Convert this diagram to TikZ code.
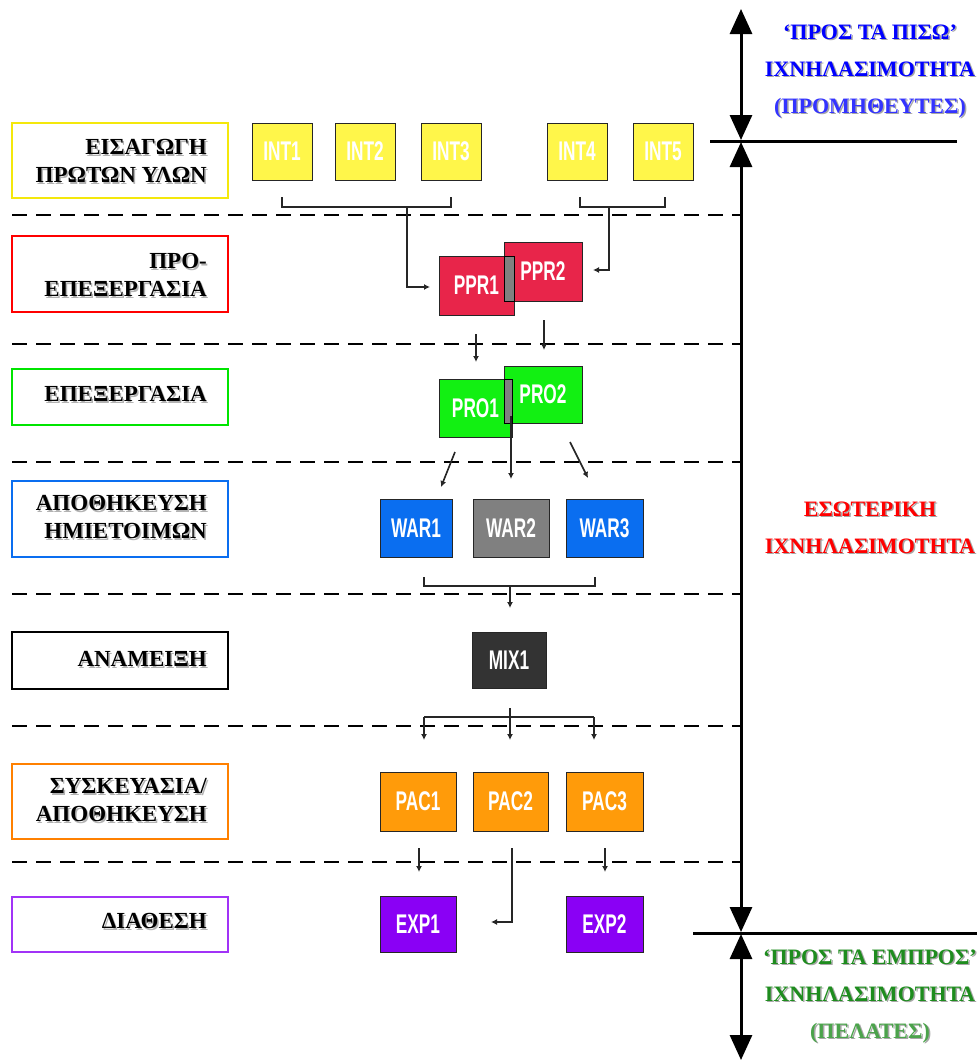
\documentclass[tikz,border=0pt]{standalone}
\usepackage{fontspec}
\usepackage{graphicx}
\setmainfont{Liberation Serif}
\newfontfamily\boxfont{Liberation Sans}
\usetikzlibrary{arrows.meta}
\definecolor{cyel}{HTML}{FFF64A}
\definecolor{cred}{HTML}{E8254A}
\definecolor{cgrn}{HTML}{12F012}
\definecolor{cblu}{HTML}{0A6EF0}
\definecolor{cgry}{HTML}{808080}
\definecolor{cdrk}{HTML}{333333}
\definecolor{corg}{HTML}{FF9B0A}
\definecolor{cpur}{HTML}{8A00F5}
\definecolor{tgrn}{HTML}{1E8C1E}
\newcommand\bx[1]{\scalebox{0.64}[1]{\boxfont\bfseries\fontsize{27}{27}\selectfont #1}}
\newcommand\shd[3]{{\makebox[0pt][l]{\textcolor{#2}{\raisebox{-1.5pt}{\hspace{1.5pt}#3}}}\textcolor{#1}{#3}}}
\tikzset{
  unit/.style={draw=black!85, line width=1pt, text=white, inner sep=0pt, minimum height=#1},
  lbox/.style={draw=#1, line width=1.5pt, minimum width=216pt, inner sep=0pt},
  lbl/.style={anchor=east, align=right, font=\bfseries\fontsize{23}{28}\selectfont, inner sep=0pt},
  rlbl/.style={align=center, font=\bfseries\fontsize{22}{37}\selectfont, inner sep=0pt},
  sep/.style={dash pattern=on 15pt off 9pt, line width=1.5pt},
  conn/.style={line width=1.6pt, black!85},
  tip/.style={-{Latex[length=6pt,width=6pt]}},
  axis/.style={line width=3pt, {Triangle[length=25pt,width=22pt]}-{Triangle[length=25pt,width=22pt]}},
  hline/.style={line width=3pt}
}
\begin{document}
\begin{tikzpicture}[x=1pt,y=-1pt]
\useasboundingbox (0,0) rectangle (977,1060);

% separator dashed lines
\foreach \yy in {215,344,462,594,726,862}
  \draw[sep] (12,\yy) -- (741,\yy);

% left stage boxes
\node[lbox=yellow!95!black, minimum height=75pt] (L1) at (120,160.5) {};
\node[lbox=red, minimum height=76pt] (L2) at (120,274) {};
\node[lbox=green!90!black, minimum height=56pt] (L3) at (120,397) {};
\node[lbox=cblu, minimum height=76pt] (L4) at (120,519) {};
\node[lbox=black, minimum height=57pt] (L5) at (120,660.5) {};
\node[lbox=orange, minimum height=75pt] (L6) at (120,801.5) {};
\node[lbox=cpur!80, minimum height=55pt] (L7) at (120,924.5) {};

\node[lbl] (T1) at (207,162) {\shd{black}{gray!60}{ΕΙΣΑΓΩΓΗ}\\\shd{black}{gray!60}{ΠΡΩΤΩΝ ΥΛΩΝ}};
\node[lbl] (T2) at (207,276) {\shd{black}{gray!60}{ΠΡΟ-}\\\shd{black}{gray!60}{ΕΠΕΞΕΡΓΑΣΙΑ}};
\node[lbl] (T3) at (207,395) {\shd{black}{gray!60}{ΕΠΕΞΕΡΓΑΣΙΑ}};
\node[lbl] (T4) at (207,518) {\shd{black}{gray!60}{ΑΠΟΘΗΚΕΥΣΗ}\\\shd{black}{gray!60}{ΗΜΙΕΤΟΙΜΩΝ}};
\node[lbl] (T5) at (207,660) {\shd{black}{gray!60}{ΑΝΑΜΕΙΞΗ}};
\node[lbl] (T6) at (207,801) {\shd{black}{gray!60}{ΣΥΣΚΕΥΑΣΙΑ/}\\\shd{black}{gray!60}{ΑΠΟΘΗΚΕΥΣΗ}};
\node[lbl] (T7) at (207,922) {\shd{black}{gray!60}{ΔΙΑΘΕΣΗ}};

% raw material units
\node[unit=57pt, fill=cyel, minimum width=60pt] (INT1) at (282,151.5) {\bx{INT1}};
\node[unit=57pt, fill=cyel, minimum width=60pt] (INT2) at (365,151.5) {\bx{INT2}};
\node[unit=57pt, fill=cyel, minimum width=60pt] (INT3) at (451,151.5) {\bx{INT3}};
\node[unit=57pt, fill=cyel, minimum width=60pt] (INT4) at (577,151.5) {\bx{INT4}};
\node[unit=57pt, fill=cyel, minimum width=60pt] (INT5) at (663,151.5) {\bx{INT5}};

% pre-processing
\node[unit=59pt, fill=cred, minimum width=75pt] (PPR1) at (476.5,285.5) {\bx{PPR1}};
\node[unit=59pt, fill=cred, minimum width=78pt] (PPR2) at (543,271.5) {\bx{PPR2}};
\draw[line width=1pt, fill=cgry] (504,256) rectangle (514,301);

% processing
\node[unit=58pt, fill=cgrn, minimum width=73pt] (PRO1) at (475.5,408) {\bx{PRO1}};
\node[unit=57pt, fill=cgrn, minimum width=78pt] (PRO2) at (543,394.5) {\bx{PRO2}};
\draw[line width=1pt, fill=cgry] (504,379) rectangle (512,423);

% warehouse
\node[unit=58pt, fill=cblu, minimum width=72pt] (WAR1) at (416,528) {\bx{WAR1}};
\node[unit=58pt, fill=cgry, minimum width=76pt] (WAR2) at (511,528) {\bx{WAR2}};
\node[unit=58pt, fill=cblu, minimum width=77pt] (WAR3) at (604.5,528) {\bx{WAR3}};

% mixing
\node[unit=56pt, fill=cdrk, minimum width=74pt] (MIX1) at (509,660) {\bx{MIX1}};

% packaging
\node[unit=59pt, fill=corg, minimum width=76pt] (PAC1) at (418,801.5) {\bx{PAC1}};
\node[unit=59pt, fill=corg, minimum width=75pt] (PAC2) at (510.5,801.5) {\bx{PAC2}};
\node[unit=59pt, fill=corg, minimum width=77pt] (PAC3) at (604.5,801.5) {\bx{PAC3}};

% dispatch
\node[unit=56pt, fill=cpur, minimum width=76pt] (EXP1) at (418,924) {\bx{EXP1}};
\node[unit=56pt, fill=cpur, minimum width=77pt] (EXP2) at (604.5,924) {\bx{EXP2}};

% connector coordinates
\coordinate (a1) at (282,197); \coordinate (a2) at (282,207);
\coordinate (a3) at (451,207); \coordinate (a4) at (451,197);
\coordinate (a5) at (407,207); \coordinate (a6) at (407,287); \coordinate (a7) at (430,287);
\coordinate (b1) at (580,197); \coordinate (b2) at (580,207);
\coordinate (b3) at (665,207); \coordinate (b4) at (665,197);
\coordinate (b5) at (609,207); \coordinate (b6) at (609,270); \coordinate (b7) at (593,270);
\coordinate (c1) at (476,334); \coordinate (c2) at (476,362);
\coordinate (c3) at (544,320); \coordinate (c4) at (544,350);
\coordinate (d1) at (455,452); \coordinate (d2) at (441,487);
\coordinate (d3) at (511,416); \coordinate (d4) at (511,479);
\coordinate (d5) at (570,442); \coordinate (d6) at (588,478);
\coordinate (e1) at (424,577); \coordinate (e2) at (424,586);
\coordinate (e3) at (595,586); \coordinate (e4) at (595,577);
\coordinate (e5) at (510,586); \coordinate (e6) at (510,608);
\coordinate (f1) at (510,708); \coordinate (f2) at (510,740);
\coordinate (f3) at (424,740); \coordinate (f4) at (424,717);
\coordinate (f5) at (594,717); \coordinate (f6) at (594,740);
\coordinate (g1) at (419,848); \coordinate (g2) at (419,872);
\coordinate (g3) at (605,848); \coordinate (g4) at (605,872);
\coordinate (g5) at (512,848); \coordinate (g6) at (512,922); \coordinate (g7) at (491,922);

\draw[conn] (a1) -- (a2) -- (a3) -- (a4);
\draw[conn, tip] (a5) -- (a6) -- (a7);
\draw[conn] (b1) -- (b2) -- (b3) -- (b4);
\draw[conn, tip] (b5) -- (b6) -- (b7);
\draw[conn, tip] (c1) -- (c2);
\draw[conn, tip] (c3) -- (c4);
\draw[conn, tip] (d1) -- (d2);
\draw[conn, tip] (d3) -- (d4);
\draw[conn, tip] (d5) -- (d6);
\draw[conn] (e1) -- (e2) -- (e3) -- (e4);
\draw[conn, tip] (e5) -- (e6);
\draw[conn, tip] (f1) -- (f2);
\draw[conn, tip] (f4) -- (f3);
\draw[conn] (f4) -- (f5);
\draw[conn, tip] (f5) -- (f6);
\draw[conn, tip] (g1) -- (g2);
\draw[conn, tip] (g3) -- (g4);
\draw[conn, tip] (g5) -- (g6) -- (g7);

% traceability axis
\coordinate (v0) at (741,9); \coordinate (v1) at (741,140);
\coordinate (v2) at (741,142); \coordinate (v3) at (741,932);
\coordinate (v4) at (741,934); \coordinate (v5) at (741,1060);
\draw[axis] (v0) -- (v1);
\draw[axis] (v2) -- (v3);
\draw[axis] (v4) -- (v5);
\coordinate (h1) at (710,141); \coordinate (h2) at (957,141);
\coordinate (h3) at (693,933); \coordinate (h4) at (977,933);
\draw[hline] (h1) -- (h2);
\draw[hline] (h3) -- (h4);

% right labels
\node[rlbl] (R1) at (870,72) {\shd{blue}{gray!70}{‘ΠΡΟΣ ΤΑ ΠΙΣΩ’}\\\shd{blue}{gray!70}{ΙΧΝΗΛΑΣΙΜΟΤΗΤΑ}\\\shd{blue!80!white}{gray!70}{(ΠΡΟΜΗΘΕΥΤΕΣ)}};
\node[rlbl] (R2) at (870,528.5) {\shd{red}{gray!70}{ΕΣΩΤΕΡΙΚΗ}\\\shd{red}{gray!70}{ΙΧΝΗΛΑΣΙΜΟΤΗΤΑ}};
\node[rlbl] (R3) at (870,997) {\shd{tgrn}{gray!70}{‘ΠΡΟΣ ΤΑ ΕΜΠΡΟΣ’}\\\shd{tgrn}{gray!70}{ΙΧΝΗΛΑΣΙΜΟΤΗΤΑ}\\\shd{tgrn!80!white}{gray!70}{(ΠΕΛΑΤΕΣ)}};
\end{tikzpicture}
\end{document}
